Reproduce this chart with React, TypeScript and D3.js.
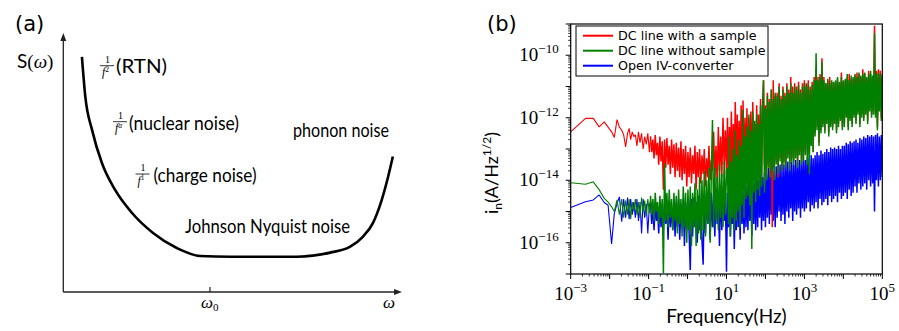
import React from 'react';
import * as d3 from 'd3';

// ---- panel (a): sketch of a noise spectrum, read in axis units (0..1) ----
const sketchOmega = [0.055, 0.065, 0.085, 0.114, 0.153, 0.203, 0.265, 0.335, 0.404, 0.493, 0.689, 0.788, 0.847, 0.885, 0.914, 0.94, 0.959, 0.973];
const sketchS = [0.908, 0.754, 0.625, 0.498, 0.394, 0.305, 0.228, 0.17, 0.139, 0.136, 0.136, 0.152, 0.175, 0.214, 0.266, 0.355, 0.445, 0.523];
const omega0 = 0.433;

// ---- panel (b): current noise, log10(f / Hz) and log10(i_n) ----
// sparse FFT bins at the low end, then evenly spaced runs [from, to, step]
const lowBins = [-3, -2.62, -2.42, -2.27, -2.14, -2.04, -1.95, -1.88, -1.81, -1.75, -1.69, -1.64, -1.59, -1.54, -1.5, -1.46, -1.42, -1.38];
const binRuns = [[-1.34, -0.98, 0.04], [-0.95, 1.0, 0.03], [1.025, 5.0, 0.025]];

const xTickExps = [-3, -1, 1, 3, 5];
const yTickExps = [-16, -14, -12, -10];
const seriesNames = ['DC line with a sample', 'DC line without sample', 'Open IV-converter'];

const redLog = `
-12.45 -12.02 -12.02 -12.29 -12.13 -12.3 -12.45 -12.63 -12.06 -12.3 -12.4 -12.55 -12.93 -12.5 -12.34 -12.7 -12.45 -12.6
-12.55 -12.9 -12.45 -12.8 -12.5 -13.0 -12.6 -12.85 -12.5 -13.1
-12.6 -13.1 -12.7 -13.3 -12.55 -13.2 -12.8 -13.5 -12.6 -13.4 -12.75
-14.3 -12.7 -13.6 -12.65 -13.5 -12.9 -13.8 -12.7 -13.6 -12.85 -13.9
-12.8 -13.7 -12.95 -13.9 -12.75 -14.0 -13.0 -13.8 -12.9 -14.2 -13.1
-13.9 -12.95 -14.1 -13.2 -13.8 -12.9 -14.3 -13.1 -13.9 -13.0 -14.1
-13.2 -13.8 -13.0 -14.2 -13.3 -13.9 -12.9 -14.0 -13.35 -13.7 -12.45
-13.9 -12.9 -14.1 -12.3 -13.7 -12.6 -13.9 -12.0 -13.5 -12.4 -13.8
-12.0 -14.0 -12.3 -13.6 -11.8 -14.1 -12.2 -13.8 -11.5 -14.0
-11.9 -13.7 -12.1 -14.0 -11.6 -13.8 -11.45 -13.9 -12.0 -13.6
-11.7 -13.9 -12.0 -13.5 -11.8 -14.1 -11.5 -13.7 -12.2 -13.8
-11.6 -13.9 -11.9 -13.6 -11.4 -14.0 -11.7 -10.8 -13.5 -11.6
-13.8 -11.2 -13.5 -11.4 -13.9 -11.1 -15.5 -10.8 -13.6 -11.3
-13.4 -11.2 -13.9 -10.9 -13.3 -11.3 -13.7 -11.0 -13.4 -11.2
-13.5 -10.9 -13.2 -11.1 -13.6 -10.7 -13.3 -11.0 -13.4 -10.9
-13.2 -11.0 -13.5 -10.85 -13.1 -11.1 -13.4 -10.9 -13.3 -10.8
-13.1 -10.9 -12.6 -10.8 -13.0 -11.0 -12.8 -10.85 -13.1 -10.7
-12.5 -10.4 -12.3 -10.7 -12.8 -10.6 -12.4 -10.1 -12.2 -10.7
-12.4 -10.9 -12.1 -10.8 -12.5 -10.7 -12.2 -10.85 -12.3 -10.9
-12.1 -10.85 -12.4 -10.75 -12.2 -10.9 -12.0 -10.55 -12.3 -10.85
-12.2 -10.8 -11.9 -10.7 -12.3 -10.6 -12.0 -10.75 -12.2 -10.75
-11.9 -10.65 -12.1 -10.55 -11.8 -10.6 -12.2 -10.7 -11.9 -10.45
-12.0 -10.6 -11.8 -10.75 -12.1 -10.5 -11.7 -10.6 -11.9 -10.7
-11.8 -9.06 -11.9 -10.5 -12.3 -10.45 -11.7 -10.5 -12.0 -10.6
`;

const greenLog = `
-14.08 -14.13 -14.05 -14.3 -14.58 -14.7 -14.85 -15.0 -14.63 -15.1 -14.6 -15.2 -14.65 -15.1 -14.6 -15.25 -14.7 -15.0
-14.6 -15.1 -14.7 -15.2 -14.55 -15.0 -14.65 -15.15 -14.6 -15.05
-14.5 -15.1 -14.6 -15.3 -14.4 -15.0 -14.7 -15.4 -14.5 -15.2 -14.6
-16.97 -13.46 -15.3 -14.4 -15.5 -14.3 -15.2 -14.6 -15.6 -14.4 -15.3
-14.5 -15.7 -14.3 -15.4 -14.6 -15.8 -14.2 -15.5 -14.4 -16.0 -14.3
-15.6 -14.2 -16.1 -14.4 -15.5 -14.1 -16.1 -14.3 -15.7 -13.9 -15.9
-14.0 -15.6 -13.7 -15.8 -14.0 -15.4 -13.6 -16.0 -13.8 -12.07 -15.5
-13.6 -15.3 -13.9 -15.6 -13.5 -15.2 -13.8 -15.5 -13.4 -15.1 -13.7
-13.6 -15.4 -12.6 -15.8 -13.4 -15.2 -13.0 -15.6 -12.4 -15.3
-13.2 -15.0 -12.7 -15.5 -12.9 -14.8 -11.75 -15.2 -12.6 -14.6
-12.3 -14.5 -11.9 -14.8 -12.4 -16.2 -11.8 -14.4 -12.1 -14.7
-11.9 -14.3 -12.2 -14.5 -11.6 -14.2 -12.0 -10.8 -14.4 -11.7
-14.0 -11.3 -13.6 -11.5 -13.9 -11.1 -13.7 -11.4 -14.0 -11.2
-13.5 -11.3 -13.8 -11.0 -13.4 -11.4 -13.7 -11.1 -13.5 -11.3
-13.6 -11.0 -13.3 -11.2 -13.7 -10.9 -13.4 -11.2 -13.5 -11.0
-13.3 -11.1 -13.6 -10.95 -13.2 -11.2 -13.5 -11.0 -13.4 -10.9
-13.2 -11.0 -13.5 -10.9 -13.8 -11.1 -12.9 -10.95 -13.1 -10.8
-12.6 -9.94 -12.4 -10.8 -12.9 -10.7 -12.5 -10.2 -12.3 -10.8
-12.5 -10.9 -12.2 -10.75 -12.6 -10.9 -12.3 -10.8 -12.4 -10.85
-12.2 -10.8 -12.5 -10.7 -12.3 -10.85 -12.1 -10.7 -12.4 -10.8
-12.3 -10.75 -12.0 -10.6 -12.4 -10.8 -12.1 -10.65 -12.3 -10.7
-12.0 -10.6 -12.2 -10.7 -11.9 -10.55 -12.3 -10.65 -12.0 -10.6
-12.1 -10.55 -11.9 -10.7 -12.2 -10.6 -11.8 -10.5 -12.0 -10.65
-11.9 -9.3 -12.0 -10.6 -12.4 -10.55 -11.8 -10.6 -12.1 -10.7
`;

const blueLog = `
-14.87 -14.69 -14.63 -14.47 -14.71 -14.8 -16.04 -15.06 -14.75 -14.53 -15.33 -14.6 -15.2 -14.55 -15.25 -14.6 -15.1 -14.7
-15.2 -14.6 -15.3 -14.7 -15.7 -14.6 -15.2 -14.75 -15.7 -14.8
-14.7 -15.4 -14.8 -15.6 -14.75 -15.3 -14.9 -15.7 -14.7 -15.5 -14.85
-15.6 -14.7 -15.4 -14.8 -15.9 -14.65 -15.5 -14.9 -15.6 -14.7 -15.8
-14.8 -15.5 -14.6 -15.9 -14.75 -15.4 -14.6 -16.1 -14.7 -15.6 -14.65
-15.7 -16.87 -14.6 -15.8 -14.55 -15.5 -14.7 -16.0 -14.5 -15.6 -14.6
-15.9 -16.7 -14.5 -15.7 -14.45 -15.4 -14.6 -15.9 -14.4 -15.5 -14.5
-15.8 -14.4 -15.4 -14.5 -16.1 -14.3 -15.6 -14.4 -15.3 -14.35 -16.93
-14.4 -15.5 -14.3 -15.8 -14.5 -15.4 -14.3 -16.2 -14.4 -15.6
-14.2 -15.5 -14.3 -15.9 -14.2 -15.4 -14.4 -15.7 -14.1 -15.5
-14.2 -15.6 -14.0 -15.3 -14.1 -15.8 -13.95 -15.4 -14.1 -15.6
-13.9 -15.5 -14.0 -15.2 -13.8 -15.6 -13.9 -15.3 -13.75 -15.5
-13.8 -15.2 -13.6 -15.4 -13.7 -15.1 -13.6 -15.3 -13.7 -15.5
-13.55 -15.2 -13.65 -15.0 -13.5 -15.3 -13.6 -15.1 -13.5 -15.4
-13.5 -15.0 -13.4 -15.2 -13.55 -14.9 -13.4 -15.3 -13.5 -15.0
-13.35 -15.1 -13.45 -14.9 -13.35 -15.2 -13.4 -14.9 -13.3 -15.0
-13.35 -14.9 -13.25 -14.7 -13.3 -15.0 -13.2 -14.8 -13.3 -14.9
-13.2 -14.7 -13.1 -14.9 -13.2 -14.6 -13.05 -14.8 -13.15 -14.7
-13.1 -14.6 -13.0 -14.8 -13.1 -14.5 -12.95 -14.7 -13.0 -14.6
-12.95 -14.5 -13.0 -14.7 -12.9 -14.4 -13.0 -14.6 -12.9 -14.5
-12.9 -14.4 -12.8 -14.6 -12.85 -14.3 -12.75 -14.5 -12.8 -14.4
-12.75 -14.2 -12.7 -14.4 -12.8 -14.1 -12.65 -14.3 -12.7 -14.2
-12.6 -14.1 -12.65 -14.3 -12.55 -14.0 -12.6 -14.2 -12.55 -14.1
-12.6 -15.0 -12.55 -14.0 -12.5 -14.2 -12.6 -14.0 -12.55 -13.9
`;

const parse = (s: string) => s.trim().split(/\s+/).map(Number);
const logFreq = [...lowBins, ...binRuns.flatMap(([a, b, s]) => d3.range(a, b + s / 2, s))];
const sparseCount = lowBins.length + 10; // points below 0.1 Hz, drawn thinner

const seriesColors = ['#ff0000', '#008000', '#0000ff'];
const seriesLog = [redLog, greenLog, blueLog].map(parse);
const drawOrder = [2, 0, 1];

const sans = 'Lato, "DejaVu Sans", sans-serif';
const serif = '"Liberation Serif", "DejaVu Serif", serif';

function Frac({x, y, sup}: {x: number; y: number; sup: string}) {
  return (
    <g transform={`translate(${x},${y})`} fontFamily={serif}>
      <text x={0.5} y={-3} fontSize={10} textAnchor="middle">1</text>
      <line x1={-7} x2={7} y1={0} y2={0} stroke="#000" strokeWidth={0.8} />
      <text x={-1.5} y={10.5} fontSize={11.5} textAnchor="middle" fontStyle="italic">
        f<tspan fontSize={7.5} fontStyle={sup === 'α' ? 'italic' : 'normal'} dy={-4.5}>{sup}</tspan>
      </text>
    </g>
  );
}

function Pow({x, y, exp, anchor}: {x: number; y: number; exp: number; anchor: string}) {
  return (
    <text x={x} y={y} textAnchor={anchor} fontFamily={serif} fill="#000">
      <tspan fontSize={19}>10</tspan>
      <tspan fontSize={13} dy={-8}>{exp < 0 ? `\u2212${-exp}` : `${exp}`}</tspan>
    </text>
  );
}

function Label({x, y, w, children}: {x: number; y: number; w: number; children: string}) {
  return (
    <text x={x} y={y} fontSize={19.5} fontFamily={sans} textLength={w} lengthAdjust="spacingAndGlyphs">
      {children}
    </text>
  );
}

export default function App() {
  const W = 899;
  const H = 331;

  // (a)
  const ax = d3.scaleLinear().domain([0, 1]).range([63.3, 402]);
  const ay = d3.scaleLinear().domain([0, 1]).range([292, 33]);
  const sketchLine = d3
    .line<number>()
    .x((d) => ax(d))
    .y((d, i) => ay(sketchS[i]))
    .curve(d3.curveMonotoneX);

  // (b)
  const fx = d3.scaleLog().domain([1e-3, 1e5]).range([570.7, 882.3]);
  const fy = d3.scaleLog().domain([1e-17, 1e-9]).range([274, 24]);
  const [x0, x1] = fx.range();
  const [y0, y1] = fy.range();
  const noiseLine = d3
    .line<[number, number]>()
    .x((d) => fx(10 ** d[0]))
    .y((d) => fy(10 ** d[1]));

  const xDecades = d3.range(-3, 6);
  const yDecades = d3.range(-17, -8);
  const minor = (decs: number[]) =>
    decs.slice(0, -1).flatMap((e) => d3.range(2, 10).map((m) => m * 10 ** e));

  return (
    <svg width={W} height={H} style={{position: 'absolute', left: 0, top: 0, background: '#fff'}}>
      <defs>
        <clipPath id="plotb">
          <rect x={x0} y={y1} width={x1 - x0} height={y0 - y1} />
        </clipPath>
      </defs>

      {/* ---------- (a) ---------- */}
      <text x={15} y={31} fontFamily='"DejaVu Sans", sans-serif' fontSize={21}>(a)</text>
      <line x1={ax(0)} y1={ay(0)} x2={ax(0)} y2={ay(1) + 4} stroke="#222" strokeWidth={1.3} />
      <path d={`M${ax(0)},${ay(1)} l-3,8 l6,0 z`} fill="#222" />
      <line x1={ax(0)} y1={ay(0)} x2={ax(1) - 4} y2={ay(0)} stroke="#222" strokeWidth={1.3} />
      <path d={`M${ax(1)},${ay(0)} l-8,-3 l0,6 z`} fill="#222" />
      <line x1={ax(omega0)} x2={ax(omega0)} y1={ay(0) - 5} y2={ay(0)} stroke="#222" strokeWidth={1.2} />
      <path d={sketchLine(sketchOmega) ?? ''} fill="none" stroke="#000" strokeWidth={2.6} />

      <text x={17} y={68} fontSize={19} fontFamily={sans}>
        S<tspan fontFamily={serif}>(</tspan>
        <tspan fontFamily={serif} fontStyle="italic">ω</tspan>
        <tspan fontFamily={serif}>)</tspan>
      </text>
      <text x={ax(omega0) - 9} y={308} fontFamily={serif} fontStyle="italic" fontSize={17}>
        ω<tspan fontStyle="normal" fontSize={11} dy={3}>0</tspan>
      </text>
      <text x={383} y={308} fontFamily={serif} fontStyle="italic" fontSize={17}>ω</text>

      <Frac x={107} y={65.7} sup="2" />
      <Label x={116} y={73.3} w={51}>(RTN)</Label>
      <Frac x={120} y={121.7} sup="α" />
      <Label x={129} y={130} w={110}>(nuclear noise)</Label>
      <Frac x={142.5} y={174} sup="1" />
      <Label x={153.5} y={182} w={103}>(charge noise)</Label>
      <Label x={185} y={232.7} w={165}>Johnson Nyquist noise</Label>
      <Label x={293} y={136.7} w={96}>phonon noise</Label>

      {/* ---------- (b) ---------- */}
      <text x={487} y={31} fontFamily='"DejaVu Sans", sans-serif' fontSize={21}>(b)</text>

      <g clipPath="url(#plotb)">
        {drawOrder.map((k) => {
          const pts = seriesLog[k]
            .slice(0, logFreq.length)
            .map((v, i) => [logFreq[i], v] as [number, number]);
          return (
            <g key={k} fill="none" stroke={seriesColors[k]} strokeLinejoin="bevel">
              <path d={noiseLine(pts.slice(0, sparseCount + 1)) ?? ''} strokeWidth={1.1} />
              <path d={noiseLine(pts.slice(sparseCount)) ?? ''} strokeWidth={1.5} />
            </g>
          );
        })}
      </g>

      <rect x={x0} y={y1} width={x1 - x0} height={y0 - y1} fill="none" stroke="#000" strokeWidth={1.2} />

      {/* x ticks */}
      {xDecades.map((e) => (
        <line key={'xM' + e} x1={fx(10 ** e)} x2={fx(10 ** e)} y1={y0} y2={y0 + 5} stroke="#000" strokeWidth={1} />
      ))}
      {minor(xDecades).map((f, i) => (
        <line key={'xm' + i} x1={fx(f)} x2={fx(f)} y1={y0} y2={y0 + 2.5} stroke="#000" strokeWidth={0.8} />
      ))}
      {xTickExps.map((e) => (
        <Pow key={'xl' + e} x={fx(10 ** e)} y={y0 + 26} exp={e} anchor="middle" />
      ))}

      {/* y ticks */}
      {yDecades.map((e) => (
        <line key={'yM' + e} x1={x0 - 5} x2={x0} y1={fy(10 ** e)} y2={fy(10 ** e)} stroke="#000" strokeWidth={1} />
      ))}
      {minor(yDecades).map((v, i) => (
        <line key={'ym' + i} x1={x0 - 2.5} x2={x0} y1={fy(v)} y2={fy(v)} stroke="#000" strokeWidth={0.8} />
      ))}
      {yTickExps.map((e) => (
        <Pow key={'yl' + e} x={x0 - 12} y={fy(10 ** e) + 6} exp={e} anchor="end" />
      ))}

      <text x={(x0 + x1) / 2} y={323} textAnchor="middle" fontFamily={sans} fontSize={19}>Frequency(Hz)</text>
      <text transform={`translate(498,${(y0 + y1) / 2 + 24}) rotate(-90)`} textAnchor="middle" fontFamily={sans} fontSize={18}>
        i<tspan fontSize={12} dy={4}>n</tspan>
        <tspan dy={-4}>(A/Hz</tspan>
        <tspan fontSize={12} dy={-7}>1/2</tspan>
        <tspan dy={7}>)</tspan>
      </text>

      {/* legend */}
      <rect x={576} y={26} width={192} height={50} fill="#fff" stroke="#000" strokeWidth={1} />
      {seriesNames.map((name, i) => (
        <g key={name} transform={`translate(0,${35.7 + i * 15})`}>
          <line x1={583} x2={613} y1={0} y2={0} stroke={seriesColors[i]} strokeWidth={2} />
          <text x={618} y={4.5} fontFamily='"DejaVu Sans", sans-serif' fontSize={12.7}>{name}</text>
        </g>
      ))}
    </svg>
  );
}
